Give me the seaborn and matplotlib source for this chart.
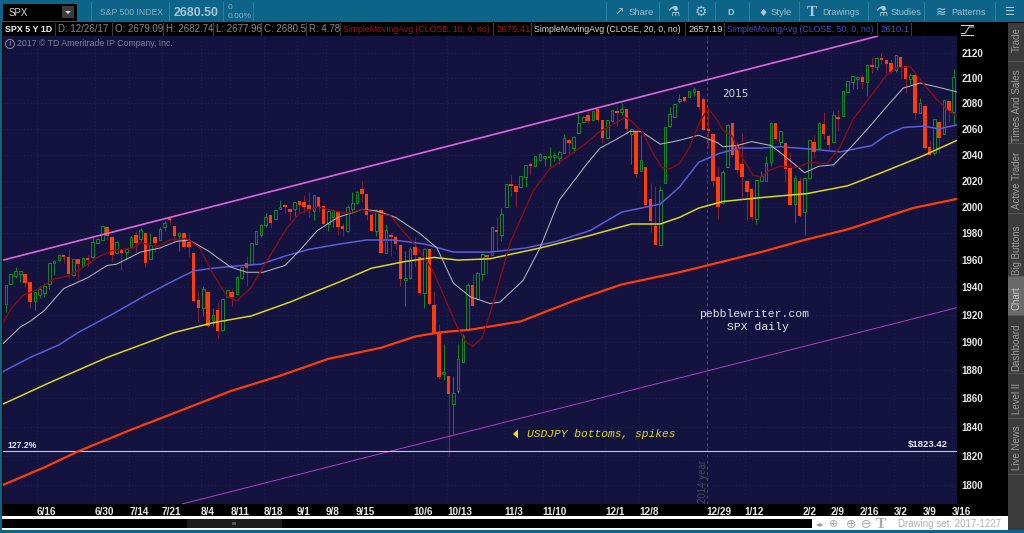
import matplotlib
matplotlib.use("Agg")
import matplotlib.pyplot as plt
from matplotlib.patches import Rectangle, Ellipse, Polygon
from matplotlib.lines import Line2D
import numpy as np
import pandas as pd
import seaborn as sns

# ---- candles (S&P 500 daily): direction, high, body top, body bottom, low ----
rows = [
 ("g",1941,1941,1928,1922),("g",1950,1949,1942,1942),("g",1955,1951,1948,1947),("g",1951,1951,1950,1944),
 ("r",1949,1949,1943,1940),("r",1943,1943,1929,1925),("g",1936,1936,1930,1923),("g",1941,1938,1934,1932),
 ("g",1943,1940,1936,1933),("g",1957,1957,1942,1939),("g",1960,1959,1958,1949),("g",1964,1963,1960,1959),
 ("r",1964,1963,1962,1958),("r",1968,1962,1950,1947),("g",1961,1960,1949,1948),("r",1960,1960,1957,1945),
 ("g",1961,1961,1956,1955),("r",1964,1961,1960,1956),("g",1977,1973,1962,1961),("g",1976,1975,1973,1973),
 ("g",1985,1985,1975,1975),("r",1985,1984,1978,1975),("r",1977,1977,1964,1959),("g",1974,1973,1965,1965),
 ("r",1968,1967,1965,1953),("g",1969,1968,1966,1960),("g",1978,1977,1970,1969),("r",1982,1978,1973,1966),
 ("g",1984,1982,1976,1974),("r",1981,1980,1958,1955),("g",1980,1971,1961,1961),("r",1977,1977,1973,1966),
 ("g",1985,1983,1975,1975),("g",1989,1987,1985,1982),("r",1992,1991,1990,1986),("r",1985,1985,1978,1974),
 ("g",1981,1980,1978,1967),("r",1981,1980,1970,1969),("r",1980,1973,1970,1963),("r",1965,1965,1930,1930),
 ("r",1937,1930,1925,1915),("g",1941,1938,1925,1919),("r",1936,1936,1912,1911),("g",1925,1919,1916,1912),
 ("r",1929,1923,1908,1903),("g",1931,1931,1909,1908),("g",1938,1937,1933,1933),("r",1939,1936,1933,1926),
 ("g",1948,1947,1935,1935),("g",1954,1954,1947,1946),("r",1963,1957,1954,1941),("g",1972,1972,1957,1957),
 ("g",1982,1981,1972,1972),("g",1987,1986,1979,1977),("g",1995,1992,1986,1985),("r",1994,1993,1988,1984),
 ("g",1998,1997,1991,1991),("g",2005,1999,1998,1998),("r",2002,2001,2000,1995),("r",1999,1998,1996,1990),
 ("g",2003,2003,1998,1993),("r",2005,2004,2001,1996),("r",2009,2003,2000,1995),("r",2011,2001,1998,1992),
 ("g",2008,2008,1997,1990),("r",2007,2007,2000,1996),("r",2000,2000,1987,1987),("g",1996,1996,1987,1982),
 ("g",1997,1997,1992,1985),("r",1997,1996,1985,1979),("r",1988,1985,1983,1978),("g",2001,1999,1982,1981),
 ("g",2011,2002,1998,1995),("g",2012,2011,2003,2002),("r",2020,2013,2010,2004),("r",2009,2009,1994,1990),
 ("r",1995,1993,1982,1982),("g",1998,1996,1982,1978),("r",1997,1997,1965,1965),("g",1987,1982,1965,1965),
 ("r",1980,1978,1977,1963),("r",1979,1977,1972,1968),("r",1971,1971,1946,1941),("g",1967,1946,1945,1926),
 ("g",1970,1968,1947,1946),("r",1977,1969,1964,1956),("r",1962,1962,1936,1935),("g",1969,1968,1936,1925),
 ("r",1968,1968,1928,1927),("r",1937,1926,1906,1906),("r",1913,1906,1875,1874),("g",1899,1878,1877,1873),
 ("r",1875,1875,1863,1820),("g",1876,1863,1856,1835),("g",1899,1887,1865,1864),("g",1906,1904,1886,1886),
 ("g",1943,1941,1909,1909),("r",1950,1941,1926,1926),("g",1951,1950,1931,1931),("g",1965,1964,1950,1945),
 ("r",1964,1963,1962,1950),("g",1985,1984,1964,1964),("r",1992,1982,1981,1968),("g",1999,1994,1979,1974),
 ("g",2017,2017,2000,2000),("r",2024,2017,2016,2008),("r",2015,2015,2011,2000),("g",2023,2023,2015,2014),
 ("g",2031,2031,2023,2015),("r",2034,2032,2031,2024),("g",2039,2038,2031,2030),("g",2041,2040,2036,2035),
 ("g",2039,2038,2037,2031),("g",2046,2038,2038,2030),("g",2042,2039,2038,2035),("g",2043,2041,2037,2033),
 ("g",2056,2052,2041,2041),("r",2052,2051,2049,2039),("g",2054,2053,2045,2041),("g",2072,2064,2057,2057),
 ("g",2070,2069,2065,2065),("r",2074,2070,2066,2064),("g",2073,2073,2067,2066),("r",2075,2075,2067,2065),
 ("r",2066,2066,2053,2049),("g",2067,2066,2053,2053),("g",2075,2074,2066,2066),("r",2077,2073,2072,2062),
 ("g",2080,2075,2073,2071),("r",2075,2075,2060,2056),("g",2060,2059,2056,2033),("r",2058,2058,2025,2023),
 ("g",2055,2035,2027,2027),("r",2030,2030,2001,2001),("r",2018,2005,1989,1981),("r",2016,1985,1971,1971),
 ("g",2016,2012,1971,1971),("g",2061,2061,2018,2018),("g",2077,2071,2062,2061),("g",2079,2079,2069,2069),
 ("g",2087,2083,2082,2080),("r",2086,2084,2082,2081),("g",2090,2089,2085,2085),("g",2093,2091,2089,2086),
 ("r",2090,2089,2077,2075),("r",2085,2083,2059,2058),("r",2075,2059,2058,2045),("r",2055,2055,2020,2016),
 ("r",2030,2022,2000,1991),("g",2028,2026,2003,2002),("g",2064,2062,2030,2030),("r",2064,2064,2040,2038),
 ("r",2050,2047,2028,2026),("r",2057,2032,2023,2007),("r",2019,2019,2011,1990),("r",2015,2013,1992,1990),
 ("g",2020,2020,1991,1987),("g",2027,2023,2020,2020),("g",2039,2033,2020,2020),("g",2065,2064,2034,2031),
 ("r",2064,2064,2052,2051),("g",2058,2058,2050,2047),("r",2048,2048,2029,2019),("r",2042,2029,2001,2001),
 ("g",2024,2021,2002,1988),("r",2023,2019,1993,1992),("g",2021,2021,1996,1979),("g",2051,2051,2022,2022),
 ("r",2055,2049,2042,2037),("g",2065,2064,2045,2044),("r",2073,2063,2056,2052),("r",2056,2054,2047,2043),
 ("g",2074,2070,2050,2050),("r",2075,2069,2068,2058),("g",2090,2089,2070,2070),("g",2098,2097,2089,2089),
 ("g",2102,2101,2097,2091),("g",2101,2100,2099,2091),("r",2103,2100,2097,2091),("g",2110,2110,2097,2086),
 ("r",2117,2110,2109,2104),("g",2117,2115,2109,2106),("r",2120,2115,2114,2111),("r",2115,2114,2111,2104),
 ("r",2115,2111,2105,2104),("g",2118,2118,2106,2105),("r",2117,2116,2108,2099),("r",2109,2109,2099,2088),
 ("g",2104,2102,2099,2095),("r",2102,2102,2072,2068),("g",2084,2080,2072,2072),("r",2077,2077,2045,2044),
 ("r",2051,2045,2040,2040),("g",2067,2067,2041,2040),("r",2065,2065,2053,2041),("g",2082,2082,2056,2056),
 ("r",2081,2081,2074,2065),("g",2107,2100,2073,2064),
]
candle_df = pd.DataFrame(rows, columns=["dir", "high", "top", "bottom", "low"])
candle_df["bar"] = np.arange(len(candle_df))

# ---- moving averages: (bar, price) samples ----
sma200_bar = [-0.6,8,15,26,36,46.6,57,67,78,85,90,96.5,107,118,128,140,148,157,166,175,188.5,197.7]
sma200_val = [1800,1812,1823,1838,1851,1865,1876,1888,1896,1904,1907,1909,1915,1930,1942,1951,1958,1966,1975,1983,1999,2006]
sma100_bar = [-0.6,9,21,35,43,51,59,69.4,76,83,89,94,100.6,111,121,130,136,140,144,149,157,166.5,175,182,190,197.7]
sma100_val = [1856,1871,1889,1907,1914,1919,1929,1944,1954,1959,1962,1960,1961,1969,1978,1987,1987,1992,1999,2004,2007,2010,2016,2026,2038,2051]
sma50_bar = [-0.6,5,11,15,22,29,35,39,43,49,53,58,63,69.4,75,80.5,87,93,100.6,108,114.5,121.4,128,136,140,144,148.4,152.6,156.8,161,168,173.4,180,183,186.5,190.6,194,197.7]
sma50_val = [1879,1889,1898,1907,1920,1934,1945,1952,1954,1956,1957,1963,1968,1972,1975,1975,1972,1966,1966,1969,1974,1982,1996,2002,2015,2034,2041,2045,2045,2046,2044,2042,2047,2055,2061,2062,2060,2063]
sma20_bar = [-0.6,3,5,8,12,17,21,23,28,32,35.5,38,42,46.6,50,53.4,58,61,64.7,69,74,77,81,86,89.6,93,96.5,100.6,102.7,107.5,111,115,120.8,123.5,127,129.7,132,136,140,144,148,149,152,155,159,161.5,166,169,172,175,179.6,183,186.5,190,193.5,197.7]
sma20_val = [1899,1911,1915,1923,1939,1947,1956,1957,1966,1969,1974,1975,1967,1955,1951,1951,1956,1967,1982,1992,1998,1997,1992,1980,1969,1943,1933,1928,1929,1945,1969,2005,2033,2045,2052,2058,2058,2048,2051,2055,2049,2046,2047,2050,2047,2040,2026,2031,2032,2043,2062,2077,2092,2096,2093,2089]
sma10_bar = [-0.6,1,3.5,6.4,10,12.7,15.4,19,22,26.4,28,31.4,34,37.6,40.3,43,46,48,51,54,58.4,61,64.7,68,71,74,80,82,85.4,88.8,91.7,93.8,95.4,97,99,101,104.8,109.6,113,116.6,120,123.5,127,128.7,130,132.4,134.5,136.4,138,140,142,144.3,146,147.8,149,151,153,155.3,157,158.8,161,164.5,167,170.7,173.4,176,179.6,183,185,188,190.6,193.5,195.6,197.7]
sma10_val = [1914,1924,1934,1938,1946,1948,1953,1962,1967,1969,1973,1970,1975,1976,1969,1950,1933,1930,1940,1958,1984,1995,2000,1997,1995,1998,1993,1984,1970,1952,1928,1911,1901,1897,1903,1925,1973,2012,2029,2038,2047,2058,2065,2069,2066,2057,2041,2030,2029,2033,2045,2066,2076,2067,2059,2054,2038,2024,2023,2028,2031,2030,2034,2033,2046,2067,2085,2102,2108,2109,2096,2083,2075,2070]

channel_upper_bar, channel_upper_val = [-0.6, 181.3], [1960, 2133.7]
channel_lower_bar, channel_lower_val = [36.6, 197.7], [1787, 1925]
fib_level = 1823.42

y_ticks = [1800,1820,1840,1860,1880,1900,1920,1940,1960,1980,2000,2020,2040,2060,2080,2100,2120]
x_tick_bars = [6.4,18.5,25.6,32.4,40.5,46.6,53.6,60.5,66.5,72.6,84.6,91.7,103.7,111.6,124.5,131.6,145.7,153.6,165.7,171.5,177.5,184.6,190.6,196.7]
x_tick_labels = ["6/16","6/30","7/14","7/21","8/4","8/11","8/18","9/1","9/8","9/15","10/6","10/13","11/3","11/10","12/1","12/8","12/29","1/12","2/2","2/9","2/16","3/2","3/9","3/16"]

NAVY = "#14123f"
TEAL = "#0c6488"
GREEN = "#0f8a22"
ORANGE = "#ff3c08"
WICK_RED = "#7c2236"

sns.set_theme(style="dark")
plt.rcParams["font.family"] = ["Liberation Sans", "DejaVu Sans"]

W, H = 1024, 533
fig = plt.figure(figsize=(W / 100, H / 100), dpi=100, facecolor="black")
ax = fig.add_axes([3 / W, 1 - 504 / H, 954 / W, 468 / H], facecolor=NAVY)


def rect(x0, y0, x1, y1, color, z=1):
    fig.add_artist(Rectangle((x0 / W, 1 - y1 / H), (x1 - x0) / W, (y1 - y0) / H,
                             transform=fig.transFigure, facecolor=color, edgecolor="none", zorder=z))


def txt(x, y, s, color="#cfcfcf", size=7, ha="left", va="center", z=6, **kw):
    fig.text(x / W, 1 - y / H, s, color=color, fontsize=size, ha=ha, va=va, zorder=z, **kw)


# candles
ax.set_yscale("log")
gdf = candle_df[candle_df.dir == "g"]
rdf = candle_df[candle_df.dir == "r"]
ax.vlines(gdf.bar, gdf.low, gdf.high, color=GREEN, lw=0.7, zorder=2)
ax.vlines(rdf.bar, rdf.low, rdf.high, color=WICK_RED, lw=0.8, zorder=2)
ax.bar(gdf.bar, gdf.top - gdf.bottom + 0.6, bottom=gdf.bottom, width=0.55, facecolor=NAVY,
       edgecolor=GREEN, linewidth=0.7, zorder=3)
ax.bar(rdf.bar, rdf.top - rdf.bottom + 0.6, bottom=rdf.bottom, width=0.72, facecolor=ORANGE,
       edgecolor="none", zorder=3)

# channel and level
ax.plot(channel_upper_bar, channel_upper_val, color="#e264dc", lw=1.2, zorder=4, solid_capstyle="butt")
ax.plot(channel_lower_bar, channel_lower_val, color="#a844b8", lw=0.7, zorder=4)
ax.axhline(fib_level, color="#c8c8dc", lw=0.8, zorder=4)
ax.axvline(145.7, color="#4c4c64", lw=0.7, ls=(0, (3, 3)), zorder=1)

# moving averages
for bars, vals, color, lw in [
    (sma200_bar, sma200_val, "#ff3c08", 1.6),
    (sma100_bar, sma100_val, "#d9d81c", 1.1),
    (sma50_bar, sma50_val, "#5c5cdc", 1.1),
    (sma20_bar, sma20_val, "#b4b4bc", 0.75),
    (sma10_bar, sma10_val, "#8e0c10", 0.95),
]:
    sns.lineplot(x=bars, y=vals, color=color, lw=lw, ax=ax, zorder=5, errorbar=None, sort=False,
                 solid_joinstyle="round")

ax.set_xlim(-0.62, 197.7)
ax.set_ylim(1787, 2133.7)
ax.yaxis.tick_right()
ax.minorticks_off()
ax.set_yticks(y_ticks)
ax.set_yticklabels([str(v) for v in y_ticks], color="#e8e8e8", fontsize=7, fontweight="bold")
ax.set_xticks(x_tick_bars)
ax.set_xticklabels(x_tick_labels, color="#e8e8e8", fontsize=7.2, fontweight="bold", ha="left")
ax.tick_params(axis="both", length=0, pad=3)
ax.tick_params(axis="x", pad=2)
ax.grid(True, color="#30305c", lw=0.5, ls=(0, (1, 4)))
ax.set_axisbelow(True)
ax.set_xlabel("")
ax.set_ylabel("")
for s in ax.spines.values():
    s.set_visible(False)

# chart annotations
txt(735, 94, "2015", color="#d2d2da", size=7.5, ha="center", family="DejaVu Sans")
txt(754.5, 314, "pebblewriter.com", color="#e4e4ea", size=8.2, ha="center", family="Liberation Mono")
txt(758, 327, "SPX daily", color="#e4e4ea", size=8.2, ha="center", family="Liberation Mono")
txt(527, 434, "USDJPY bottoms, spikes", color="#dcdc18", size=8.1, style="italic", family="Liberation Mono")
fig.add_artist(Polygon([(513 / W, 1 - 434 / H), (518 / W, 1 - 429.5 / H), (518 / W, 1 - 438.5 / H)],
                       transform=fig.transFigure, facecolor="#e8e818", edgecolor="none", zorder=6))
txt(7, 445, "127.2%", color="#e6e6ee", size=6.2, fontweight="bold")
txt(948, 445, "$1823.42", color="#e6e6ee", size=6.8, ha="right", fontweight="bold")
txt(702.5, 481, "2014 year", color="#46465f", size=7, ha="center", rotation=90)
txt(17, 44, "2017 © TD Ameritrade IP Company, Inc.", color="#7f7f95", size=6.3)
fig.add_artist(Ellipse((10 / W, 1 - 44 / H), 9 / W, 9 / H, transform=fig.transFigure, fill=False,
                       edgecolor="#8a8a9c", lw=0.7, zorder=6))
txt(10, 44, "!", color="#8a8a9c", size=5.5, ha="center", fontweight="bold")

# top toolbar
rect(0, 0, W, 22.5, TEAL)
rect(3, 4, 77, 20.5, "black", 2)
rect(62, 6, 74, 18, "#3c3c3c", 3)
fig.add_artist(Polygon([(65 / W, 1 - 11 / H), (71 / W, 1 - 11 / H), (68 / W, 1 - 14 / H)],
                       transform=fig.transFigure, facecolor="#dddddd", edgecolor="none", zorder=6))
txt(9, 12.5, "SPX", color="#d8d8d8", size=7)
txt(100, 12.5, "S&P 500 INDEX", color="#86aec2", size=6.2)
txt(174, 12.5, "2680.50", color="#a9c4d2", size=8.9, fontweight="bold")
txt(228, 7.5, "0", color="#86aec2", size=6)
txt(228, 16.5, "0.00%", color="#86aec2", size=6)
for xs in [91, 169, 223, 253, 606, 659, 688, 715, 749, 799, 868, 924, 995]:
    rect(xs, 2, xs + 0.8, 21, "#2a7ea0", 2)
txt(629, 12.5, "Share", color="#9cc0d0", size=6.8)
txt(619, 12.5, "↗", color="#9cc0d0", size=8, family="DejaVu Sans", ha="center")
txt(673, 12, "⚗", color="#a9c8d6", size=10, family="DejaVu Sans", ha="center")
txt(701, 12, "⚙", color="#a9c8d6", size=10, family="DejaVu Sans", ha="center")
txt(731, 12.5, "D", color="#a9c8d6", size=6.5, ha="center", fontweight="bold")
txt(771, 12.5, "Style", color="#9cc0d0", size=6.8)
txt(763, 12.5, "♦", color="#a9c8d6", size=7.5, family="DejaVu Sans", ha="center")
txt(822, 12.5, "Drawings", color="#9cc0d0", size=6.4)
txt(812, 12.5, "T", color="#a9c8d6", size=11, family="Liberation Serif", ha="center", fontweight="bold")
txt(891, 12.5, "Studies", color="#9cc0d0", size=6.6)
txt(881, 12, "⚗", color="#a9c8d6", size=10, family="DejaVu Sans", ha="center")
txt(951, 12.5, "Patterns", color="#9cc0d0", size=6.6)
txt(941, 12, "≋", color="#a9c8d6", size=9, family="DejaVu Sans", ha="center")
txt(1009, 12, "☰", color="#a9c8d6", size=8, family="DejaVu Sans", ha="center")

# study header row
rect(0, 22.5, W, 36, "black", 2)
head = [
    (5, "SPX 5 Y 1D", "#f2f2f2", True, 6.4), (58, "D: 12/26/17", "#8a8a8a", False, 7), (115, "O: 2679.09", "#8a8a8a", False, 7),
    (166, "H: 2682.74", "#8a8a8a", False, 7), (216, "L: 2677.96", "#8a8a8a", False, 7), (264, "C: 2680.5", "#8a8a8a", False, 7),
    (309, "R: 4.78", "#8a8a8a", False, 7), (343, "SimpleMovingAvg (CLOSE, 10, 0, no)", "#a81414", False, 6.35),
    (496, "2675.41", "#a81414", False, 6.8), (534, "SimpleMovingAvg (CLOSE, 20, 0, no)", "#d6d6d6", False, 6.35),
    (688, "2657.19", "#d6d6d6", False, 6.8), (727, "SimpleMovingAvg (CLOSE, 50, 0, no)", "#4a4ad0", False, 6.35),
    (880, "2610.1", "#4a4ad0", False, 6.8),
]
for x, s, c, b, sz in head:
    txt(x, 29.5, s, color=c, size=sz, fontweight="bold" if b else "normal")
for xs in [55, 112, 163, 213, 261, 306, 340, 493, 531, 685, 724, 877, 911]:
    rect(xs, 23, xs + 0.7, 36, "#3a3a3a", 3)

# right scale panel and log icon
rect(957, 36, 1008, 504, "black", 0)
rect(961, 25, 974, 26, "#d8d8d8", 3)
rect(961, 35, 974, 36, "#d8d8d8", 3)
fig.add_artist(Line2D([961 / W, 965 / W, 969 / W, 974 / W],
                      [1 - 33.5 / H, 1 - 33.5 / H, 1 - 27 / H, 1 - 27 / H],
                      transform=fig.transFigure, color="#d8d8d8", lw=0.7, zorder=6))

# right tabs
rect(1008, 22.5, W, 533, "#3c3c3c", 2)
rect(1008, 276, W, 315, "#6a6a6a", 3)
for yb in [61, 143, 213, 276, 315, 373, 418, 474]:
    rect(1008, yb, W, yb + 0.8, "#565656", 4)
for yc, name, col in [(40, "Trade", "#9a9a9a"), (106, "Times And Sales", "#9a9a9a"), (180, "Active Trader", "#9a9a9a"),
                      (250, "Big Buttons", "#9a9a9a"), (298, "Chart", "#c4c4c4"), (347, "Dashboard", "#9a9a9a"),
                      (398, "Level II", "#9a9a9a"), (448, "Live News", "#9a9a9a")]:
    txt(1016.5, yc, name, color=col, size=7, ha="center", rotation=90)

# bottom strip
rect(0, 504, 1008, 516, "black", 0)
rect(0, 516, 1008, 533, "white", 2)
rect(2, 518.5, 812, 528, "black", 3)
rect(187, 518.5, 282, 528, "#1c1c1c", 4)
rect(232, 522, 236, 525, "#555555", 5)
rect(0, 530, W, 533, TEAL, 5)
rect(0, 0, 2, 533, TEAL, 5)
txt(820, 524, "◂▸", color="#9a9a9a", size=6, ha="center", family="DejaVu Sans")
txt(834, 524, "⊕", color="#a8a8a8", size=8, ha="center", family="DejaVu Sans")
txt(851, 524, "⊕", color="#a8a8a8", size=9, ha="center", family="DejaVu Sans")
txt(866, 524, "⊖", color="#a8a8a8", size=9, ha="center", family="DejaVu Sans")
txt(881, 524, "T", color="#a8a8a8", size=11, ha="center", family="Liberation Serif", fontweight="bold")
txt(898, 524, "Drawing set: 2017-1227", color="#b0b0b0", size=7)

fig.savefig("out.png", dpi=100, facecolor="black")
